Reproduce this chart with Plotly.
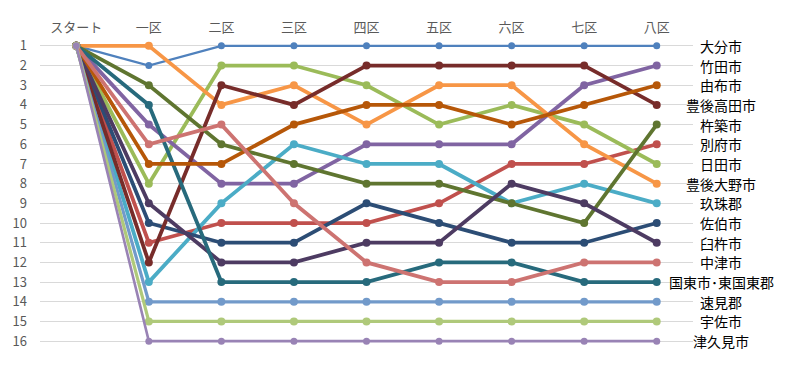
import plotly.graph_objects as go

stages = ["スタート", "一区", "二区", "三区", "四区", "五区", "六区", "七区", "八区"]

# series in drawing order (name, ranks per stage)
names = ["大分市", "別府市", "日田市", "竹田市", "玖珠郡", "豊後大野市", "佐伯市", "豊後高田市",
         "杵築市", "臼杵市", "国東市･東国東郡", "由布市", "速見郡", "中津市", "宇佐市", "津久見市"]

oita      = [1, 2, 1, 1, 1, 1, 1, 1, 1]
beppu     = [1, 11, 10, 10, 10, 9, 7, 7, 6]
hita      = [1, 8, 2, 2, 3, 5, 4, 5, 7]
taketa    = [1, 5, 8, 8, 6, 6, 6, 3, 2]
kusu      = [1, 13, 9, 6, 7, 7, 9, 8, 9]
bungoono  = [1, 1, 4, 3, 5, 3, 3, 6, 8]
saiki     = [1, 10, 11, 11, 9, 10, 11, 11, 10]
takada    = [1, 12, 3, 4, 2, 2, 2, 2, 4]
kitsuki   = [1, 3, 6, 7, 8, 8, 9, 10, 5]
usuki     = [1, 9, 12, 12, 11, 11, 8, 9, 11]
kunisaki  = [1, 4, 13, 13, 13, 12, 12, 13, 13]
yufu      = [1, 7, 7, 5, 4, 4, 5, 4, 3]
hayami    = [1, 14, 14, 14, 14, 14, 14, 14, 14]
nakatsu   = [1, 6, 5, 9, 12, 13, 13, 12, 12]
usa       = [1, 15, 15, 15, 15, 15, 15, 15, 15]
tsukumi   = [1, 16, 16, 16, 16, 16, 16, 16, 16]

series = [oita, beppu, hita, taketa, kusu, bungoono, saiki, takada,
          kitsuki, usuki, kunisaki, yufu, hayami, nakatsu, usa, tsukumi]

colors = ["#4F81BD", "#C0504D", "#9BBB59", "#8064A2", "#4BACC6", "#F79646",
          "#2C4D75", "#772C2A", "#5F7530", "#4D3B62", "#276A7C", "#B65708",
          "#729ACA", "#CD7371", "#AFC97A", "#9983B5"]
widths = [2.2, 3.8, 3.8, 3.8, 3.8, 3.8, 3.8, 3.8, 3.8, 3.8, 3.8, 3.8, 3.2, 3.8, 3.2, 2.6]

# final ranking labels on the right
final_ranks = list(range(1, 17))
final_names = ["大分市", "竹田市", "由布市", "豊後高田市", "杵築市", "別府市", "日田市", "豊後大野市",
               "玖珠郡", "佐伯市", "臼杵市", "中津市", "国東市･東国東郡", "速見郡", "宇佐市", "津久見市"]

fig = go.Figure()
for name, vals, c, w in zip(names, series, colors, widths):
    fig.add_trace(go.Scatter(
        x=list(range(len(stages))), y=vals, name=name, mode="lines+markers",
        line=dict(color=c, width=w),
        marker=dict(color=c, size=8 if w > 3 else 7),
        showlegend=False,
    ))

for r, n in zip(final_ranks, final_names):
    fig.add_annotation(x=1.043, xref="paper", y=r, yref="y", text=n,
                       showarrow=False, xanchor="center", yanchor="middle",
                       font=dict(size=14, color="#000000", family="Noto Sans CJK JP"))

fig.update_layout(
    width=792, height=358,
    margin=dict(l=32, r=107, t=28, b=15),
    paper_bgcolor="white", plot_bgcolor="white",
    font=dict(family="Noto Sans CJK JP", color="#595959"),
    xaxis=dict(
        range=[-0.5, 8.5], side="top", tickmode="array",
        tickvals=list(range(len(stages))), ticktext=stages,
        showgrid=False, zeroline=False, showline=False, automargin=False,
        tickfont=dict(size=13, color="#595959"), ticks="",
    ),
    yaxis=dict(
        range=[16.5, 0.5], tickmode="array", tickvals=final_ranks,
        ticktext=[str(r) for r in final_ranks], automargin=False,
        showgrid=True, gridcolor="#D9D9D9", gridwidth=1, zeroline=False,
        showline=False, tickfont=dict(size=13, color="#595959"),
        ticks="", ticklabelstandoff=12,
    ),
)

fig.write_html("out.html")
